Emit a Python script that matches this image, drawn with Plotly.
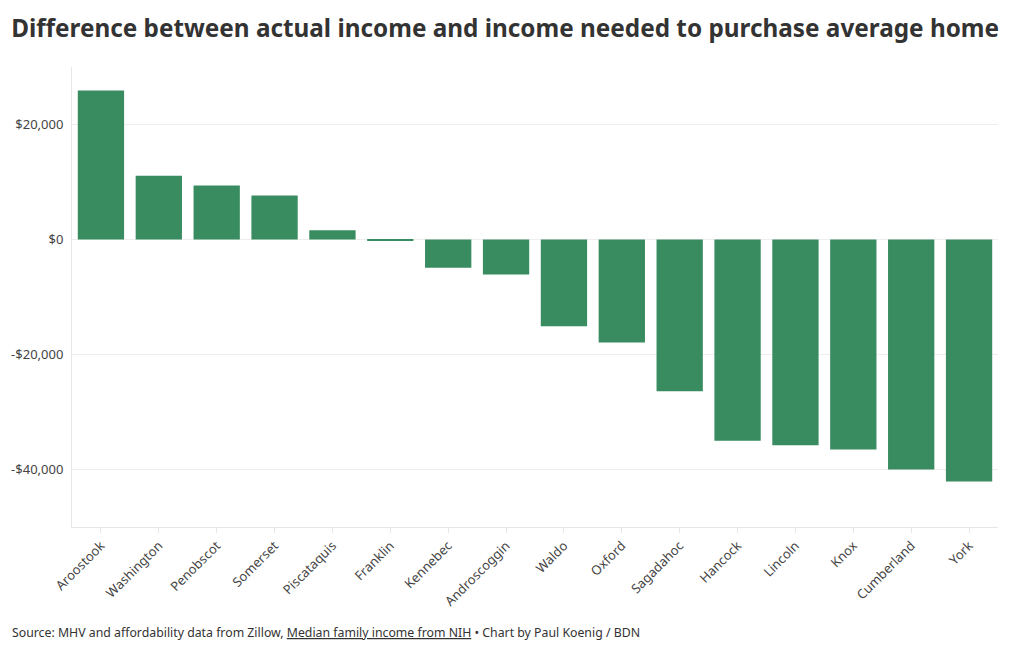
import plotly.graph_objects as go

counties = ["Aroostook", "Washington", "Penobscot", "Somerset", "Piscataquis", "Franklin",
            "Kennebec", "Androscoggin", "Waldo", "Oxford", "Sagadahoc", "Hancock",
            "Lincoln", "Knox", "Cumberland", "York"]
difference = [25900, 11100, 9400, 7650, 1600, -120, -4900, -6100, -15100, -17900,
              -26400, -35000, -35800, -36500, -40000, -42100]

FONT = "Source Sans Pro, Noto Sans, sans-serif"

fig = go.Figure(go.Bar(
    x=counties, y=difference,
    marker=dict(color="rgb(56,140,96)", line=dict(width=0)),
    hovertemplate="%{x}: %{y:$,.0f}<extra></extra>",
))

fig.update_layout(
    width=1020, height=650,
    margin=dict(l=72, r=22, t=67, b=123),
    paper_bgcolor="white", plot_bgcolor="white",
    font=dict(family=FONT, color="#333333", size=13),
    bargap=0.2,
    showlegend=False,
    title=dict(text="<b>Difference between actual income and income needed to purchase average home</b>",
               x=0.011, xanchor="left", y=1 - 28 / 650, yanchor="middle",
               font=dict(size=24.3, color="#333333", family=FONT)),
    xaxis=dict(tickangle=-45, showgrid=False, ticks="outside", ticklen=5,
               tickcolor="#e6e6e6", showline=True, linecolor="#e6e6e6", linewidth=1,
               tickfont=dict(size=13, color="#444444")),
    yaxis=dict(range=[-50000, 30000], tickvals=[-40000, -20000, 0, 20000],
               ticktext=["-$40,000", "-$20,000", "$0", "$20,000"],
               showgrid=True, gridcolor="#eeeeee", zeroline=False,
               showline=True, linecolor="#e6e6e6", linewidth=1,
               ticks="outside", ticklen=5, tickcolor="#ffffff",
               tickfont=dict(size=13, color="#444444")),
    annotations=[dict(
        text="Source: MHV and affordability data from Zillow, <u>Median family income from NIH</u> • Chart by Paul Koenig / BDN",
        xref="paper", yref="paper", x=-62 / 926, y=-(632 - 527) / 460, xanchor="left", yanchor="middle",
        showarrow=False, font=dict(size=12.3, color="#333333", family=FONT))],
)

fig.write_html("out.html", config={"displayModeBar": False},
               post_script="document.body.style.margin='0';")
